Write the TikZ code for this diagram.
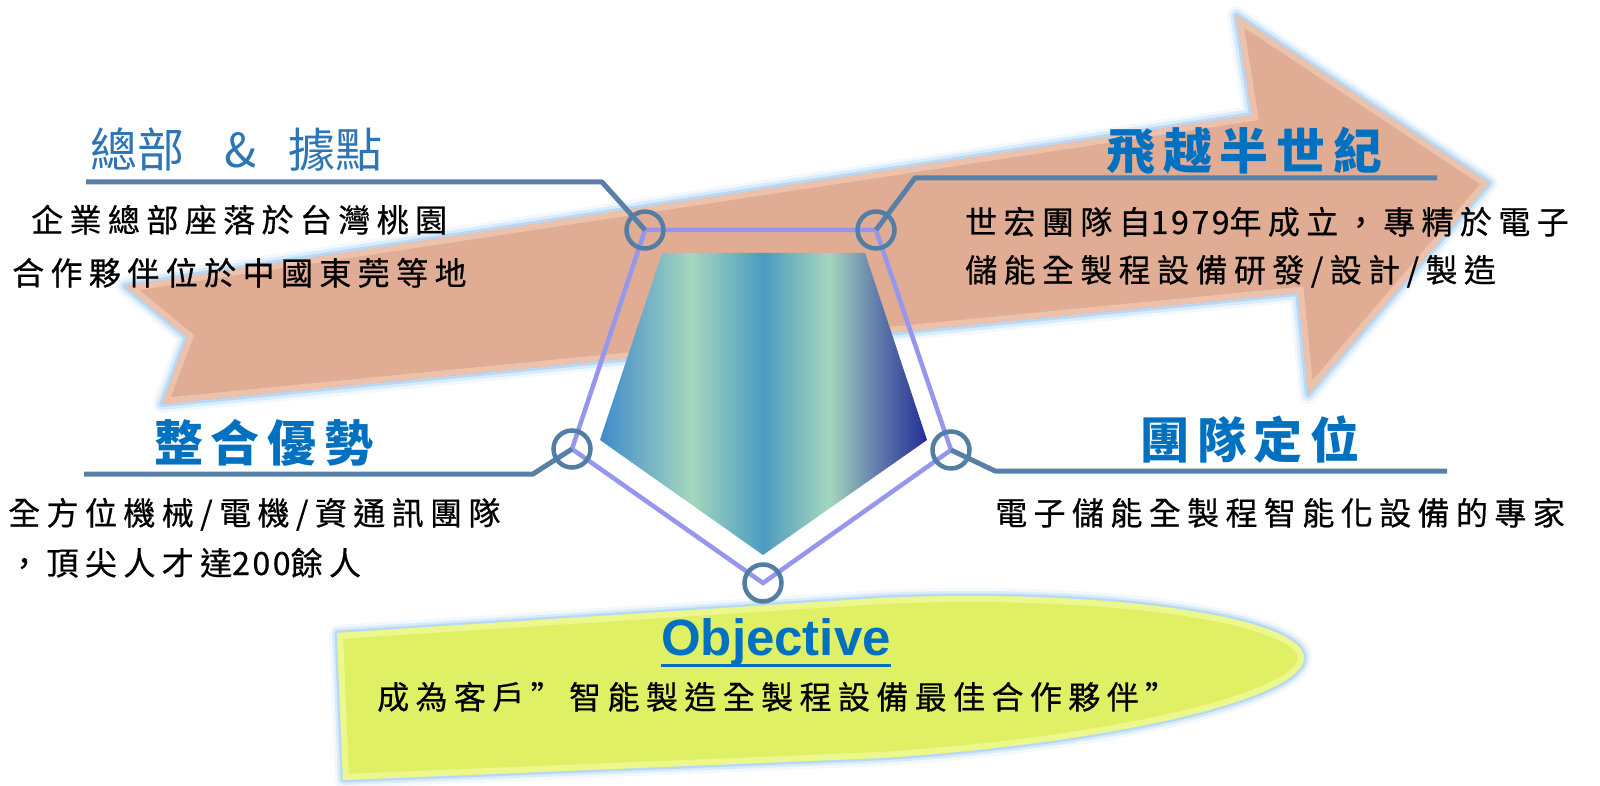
\documentclass[tikz,border=0pt]{standalone}
\usepackage{fontspec}
\setsansfont{Liberation Sans}
\newfontfamily\cjkbody[LetterSpace=20,FakeBold=0.6]{Noto Sans CJK TC}
\newfontfamily\cjkdigit[LetterSpace=8,FakeBold=0.6]{Noto Sans CJK TC}
\newfontfamily\cjktitle[LetterSpace=16]{Noto Sans CJK TC}
\newfontfamily\cjkhq{Noto Sans CJK TC}
\definecolor{arrowfill}{RGB}{224,172,148}
\definecolor{arrowlight}{RGB}{236,194,172}
\definecolor{glowblue}{RGB}{150,200,245}
\definecolor{objfill}{RGB}{224,240,100}
\definecolor{objlight}{RGB}{236,248,140}
\definecolor{pentline}{RGB}{150,150,238}
\definecolor{ringcol}{RGB}{82,126,165}
\definecolor{conncol}{RGB}{88,128,166}
\definecolor{titleblue}{RGB}{0,112,192}
\definecolor{hqblue}{RGB}{46,117,182}
\definecolor{gA}{RGB}{63,138,204}
\definecolor{gB}{RGB}{165,215,190}
\definecolor{gC}{RGB}{75,155,192}
\definecolor{gD}{RGB}{100,128,172}
\definecolor{gE}{RGB}{35,45,150}
\pgfdeclarehorizontalshading{pentshade}{100bp}{color(0bp)=(gA); color(25bp)=(gA); color(39bp)=(gB); color(50bp)=(gC); color(60bp)=(gB); color(67bp)=(gD); color(75bp)=(gE); color(100bp)=(gE)}
\begin{document}
\begin{tikzpicture}[x=1pt,y=-1pt,
  conn/.style={draw=conncol, line width=5pt, line join=round},
  ring/.style={circle, draw=ringcol, line width=4.5pt, minimum size=37pt, inner sep=0pt},
  pentedge/.style={draw=pentline, line width=4.5pt, line join=miter},
  bodytext/.style={anchor=base west, inner sep=0pt, font=\cjkbody\fontsize{32}{38}\selectfont, text=black},
  titletext/.style={anchor=base west, inner sep=0pt, font=\cjktitle\bfseries\fontsize{49}{55}\selectfont, text=titleblue}]
\useasboundingbox (0,0) rectangle (1600,786);
\fill[white] (0,0) rectangle (1600,786);

% ---- big arrow ----
\coordinate (aTL) at (125,286);
\coordinate (aJT) at (1252,115);
\coordinate (aHT) at (1236,15);
\coordinate (aTip) at (1489,183);
\coordinate (aHB) at (1308,395);
\coordinate (aJB) at (1298,293);
\coordinate (aBL) at (162,404);
\coordinate (aN) at (187,337);
\foreach \w/\o in {18/0.12, 12/0.25, 6/0.5}
  \draw[glowblue, line width=\w pt, opacity=\o, line join=round] (aTL) -- (aJT) -- (aHT) -- (aTip) -- (aHB) -- (aJB) -- (aBL) -- (aN) -- cycle;
\fill[arrowfill] (aTL) -- (aJT) -- (aHT) -- (aTip) -- (aHB) -- (aJB) -- (aBL) -- (aN) -- cycle;
\begin{scope}
  \clip (aTL) -- (aJT) -- (aHT) -- (aTip) -- (aHB) -- (aJB) -- (aBL) -- (aN) -- cycle;
  \draw[arrowlight, line width=12pt, line join=miter] (aTL) -- (aJT) -- (aHT) -- (aTip) -- (aHB) -- (aJB) -- (aBL) -- (aN) -- cycle;
\end{scope}

% ---- objective shape ----
\coordinate (oTL) at (337,633);
\coordinate (oTR) at (880,598);
\coordinate (oTip) at (1304,658);
\coordinate (oBR) at (880,758);
\coordinate (oBL) at (343,780);
\foreach \w/\o in {16/0.12, 10/0.25, 5/0.5}
  \draw[glowblue, line width=\w pt, opacity=\o, line join=round] (oTL) -- (oTR) .. controls (1115,588) and (1304,618) .. (oTip) .. controls (1304,698) and (1115,743) .. (oBR) -- (oBL) -- cycle;
\fill[objfill] (oTL) -- (oTR) .. controls (1115,588) and (1304,618) .. (oTip) .. controls (1304,698) and (1115,743) .. (oBR) -- (oBL) -- cycle;
\begin{scope}
  \clip (oTL) -- (oTR) .. controls (1115,588) and (1304,618) .. (oTip) .. controls (1304,698) and (1115,743) .. (oBR) -- (oBL) -- cycle;
  \draw[objlight, line width=12pt] (oTL) -- (oTR) .. controls (1115,588) and (1304,618) .. (oTip) .. controls (1304,698) and (1115,743) .. (oBR) -- (oBL) -- cycle;
\end{scope}

% ---- pentagon ----
\coordinate (vTL) at (645,230);
\coordinate (vTR) at (876,230);
\coordinate (vR) at (951,450);
\coordinate (vB) at (763,583);
\coordinate (vL) at (572,449);
\shade[shading=pentshade] (662,253) -- (865,253) -- (927,440) -- (763,555) -- (600,440) -- cycle;
\draw[pentedge] (vTL) -- (vTR) -- (vR) -- (vB) -- (vL) -- cycle;

% ---- connectors ----
\coordinate (hqK) at (602,182);
\coordinate (hqE) at (86,182);
\coordinate (hsK) at (915,178);
\coordinate (hsE) at (1437,178);
\coordinate (zhK) at (533,474);
\coordinate (zhE) at (84,474);
\coordinate (tdK) at (995,471);
\coordinate (tdE) at (1447,471);
\draw[conn] (vTL) -- (hqK) -- (hqE);
\draw[conn] (vTR) -- (hsK) -- (hsE);
\draw[conn] (vL) -- (zhK) -- (zhE);
\draw[conn] (vR) -- (tdK) -- (tdE);

\node[ring] (rTL) at (vTL) {};
\node[ring] (rTR) at (vTR) {};
\node[ring] (rR) at (vR) {};
\node[ring] (rB) at (vB) {};
\node[ring] (rL) at (vL) {};

% ---- titles ----
\node[anchor=base west, inner sep=0pt, font=\cjkhq\fontsize{47}{52}\selectfont, text=hqblue] (tHQ) at (90,168) {總部\hspace{40pt}\&\hspace{32pt}據點};
\node[titletext] (tHS) at (1106,170) {飛越半世紀};
\node[titletext] (tZH) at (154,461) {整合優勢};
\node[titletext] (tTD) at (1140,458) {團隊定位};

% ---- body texts ----
\node[bodytext] (bHQa) at (31,232) {企業總部座落於台灣桃園};
\node[bodytext] (bHQb) at (12,285) {合作夥伴位於中國東莞等地};
\node[bodytext] (bHSa) at (965,234) {世宏團隊自{\cjkdigit 1979}年成立，專精於電子};
\node[bodytext] (bHSb) at (965,282) {儲能全製程設備研發/設計/製造};
\node[bodytext] (bZHa) at (8,525) {全方位機械/電機/資通訊團隊};
\node[bodytext] (bZHb) at (8,575) {，頂尖人才達{\cjkdigit 200}餘人};
\node[bodytext] (bTDa) at (995,525) {電子儲能全製程智能化設備的專家};

% ---- objective ----
\node[anchor=base, inner sep=0pt, font=\sffamily\bfseries\fontsize{51}{56}\selectfont, text=titleblue] (objT) at (776,655) {Objective};
\draw[titleblue, line width=3pt] ([yshift=-10pt]objT.base west) -- ([yshift=-10pt]objT.base east);
\node[bodytext] (objB) at (377,709) {成為客戶”智能製造全製程設備最佳合作夥伴”};
\end{tikzpicture}
\end{document}
